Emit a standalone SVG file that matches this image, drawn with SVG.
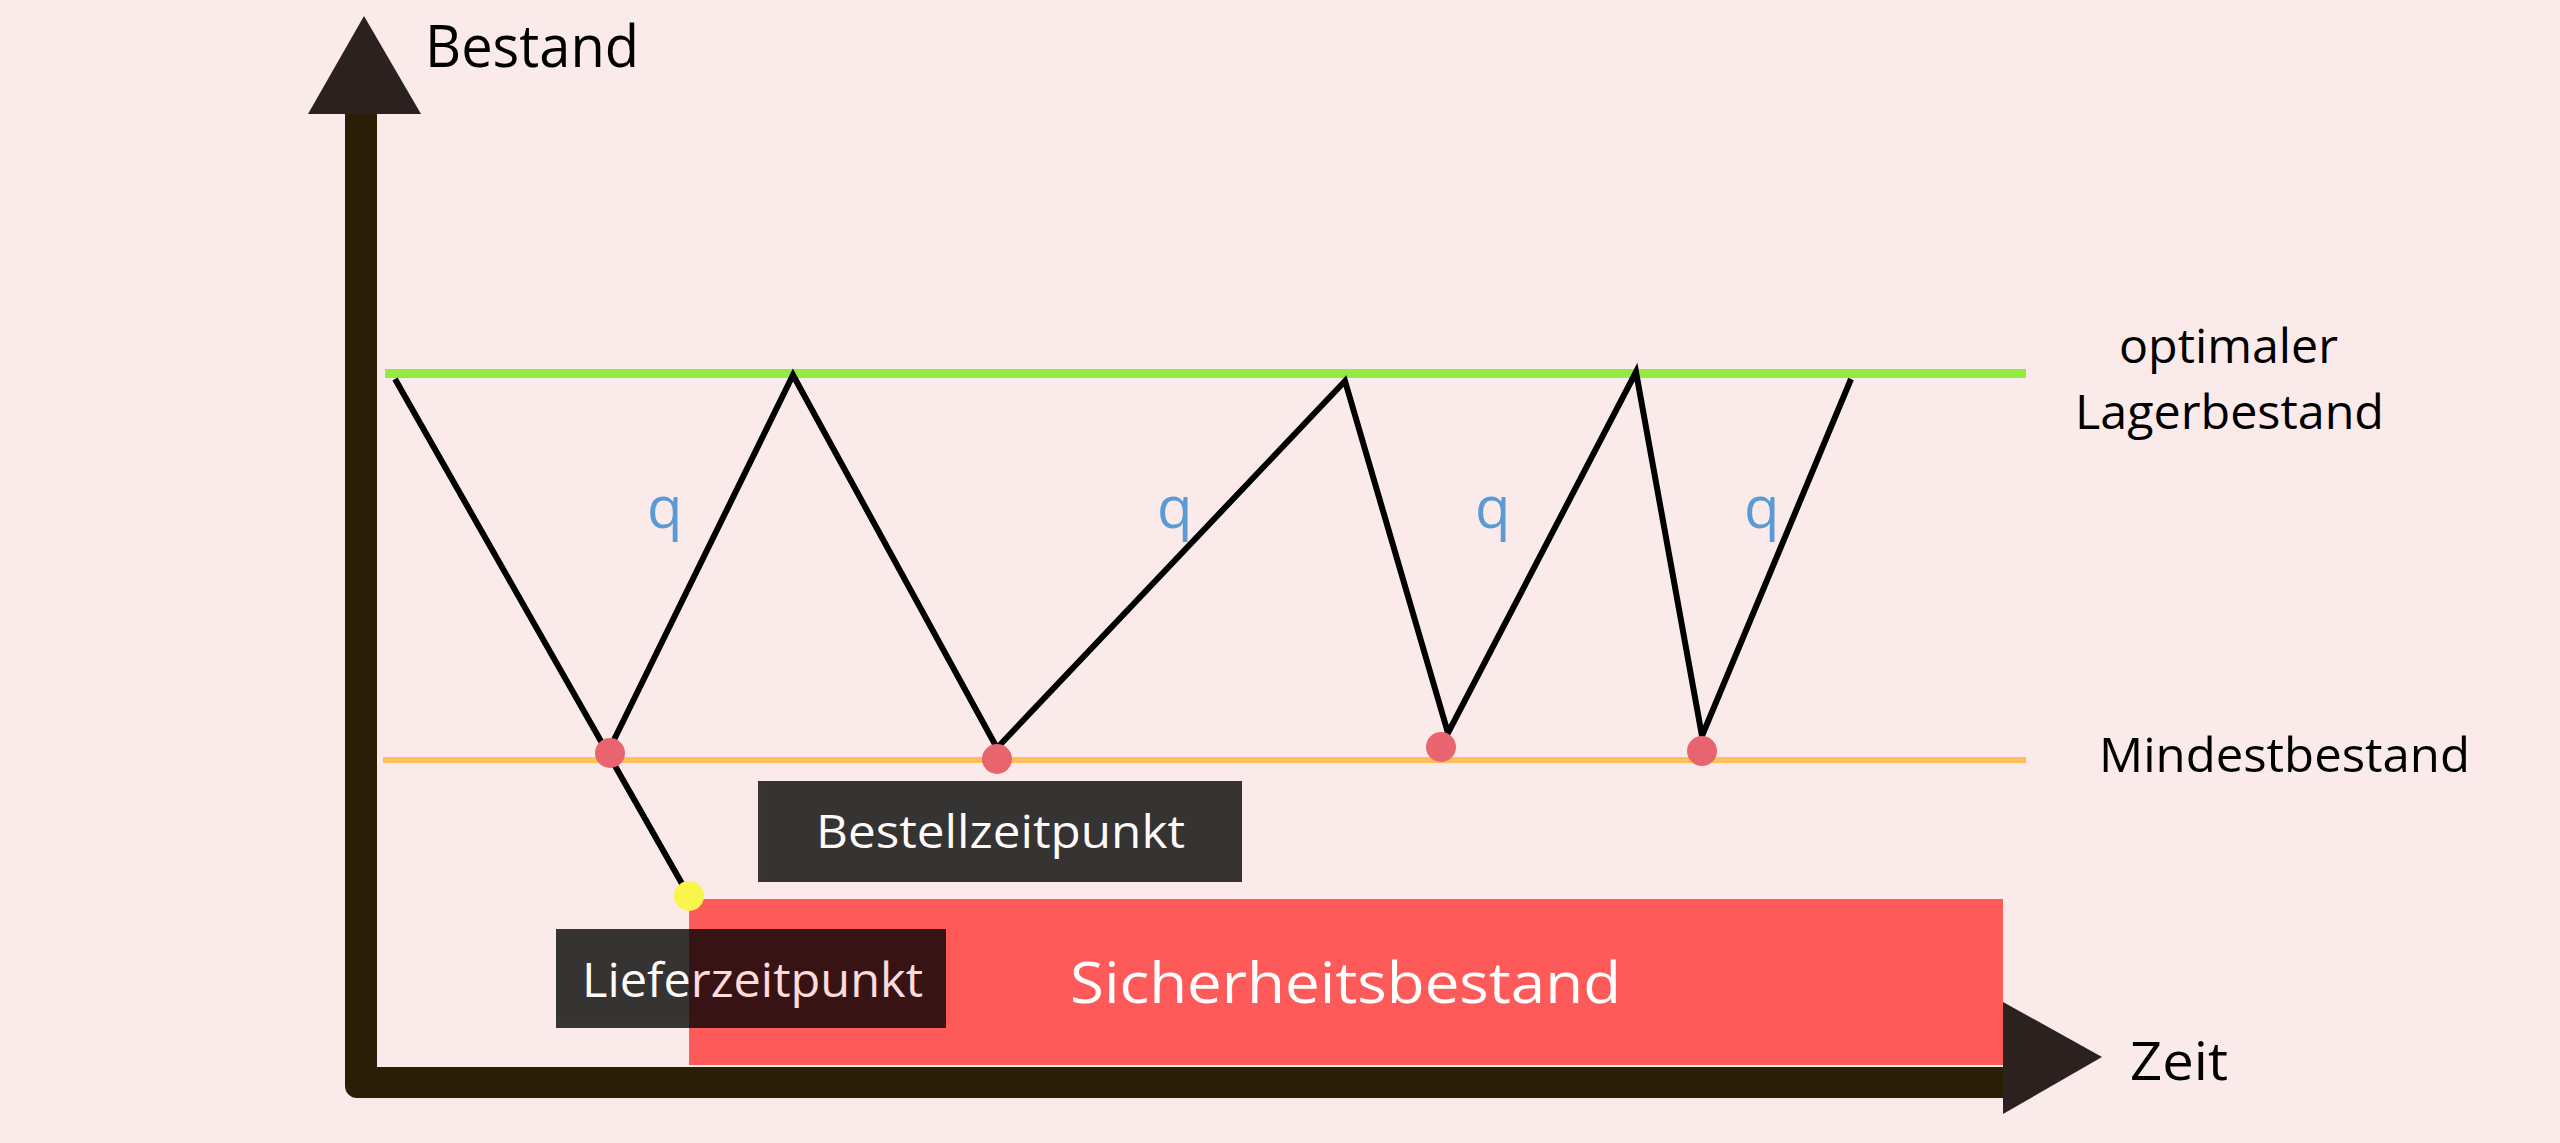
<svg xmlns="http://www.w3.org/2000/svg" width="2560" height="1143" viewBox="0 0 2560 1143">
<style>
.lbl{font-family:"Open Sans","Noto Sans","Liberation Sans",sans-serif;}
.dark{fill:#000000;}
.white{fill:#ffffff;}
.q{fill:#5B9BD5;font-size:58px;}
.zz{fill:none;stroke:#000000;stroke-width:6;stroke-linejoin:miter;}
.tri{fill:#2B2220;}
.dot{fill:#E8646E;}
</style>
<rect x="0" y="0" width="2560" height="1143" fill="#FBEAEA"/>

<g id="safety-stock">
  <rect x="689" y="899" width="1314" height="166" fill="#FF5A5A"/>
  <text class="lbl white" x="1070" y="1003" font-size="57" textLength="551" lengthAdjust="spacingAndGlyphs">Sicherheitsbestand</text>
</g>

<g id="axes">
  <path d="M345,114 H377 V1067 H2003 V1098 H357 A12,12 0 0 1 345,1086 Z" fill="#2A1E07"/>
  <polygon class="tri" points="364,16 421,114 308,114"/>
  <polygon class="tri" points="2003,1002 2102,1057 2003,1114"/>
  <text class="lbl dark" x="425" y="67" font-size="58" textLength="214" lengthAdjust="spacingAndGlyphs">Bestand</text>
  <text class="lbl dark" x="2130" y="1080" font-size="53" textLength="98" lengthAdjust="spacingAndGlyphs">Zeit</text>
</g>

<g id="optimal-level">
  <line x1="385" y1="373.5" x2="2026" y2="373.5" stroke="#93EA42" stroke-width="9"/>
  <text class="lbl dark" x="2119" y="363" font-size="47" textLength="219" lengthAdjust="spacingAndGlyphs">optimaler</text>
  <text class="lbl dark" x="2075" y="429" font-size="47" textLength="309" lengthAdjust="spacingAndGlyphs">Lagerbestand</text>
</g>

<g id="minimum-level">
  <line x1="383" y1="760" x2="2026" y2="760" stroke="#FBBF5C" stroke-width="6"/>
  <text class="lbl dark" x="2099" y="772" font-size="48" textLength="371" lengthAdjust="spacingAndGlyphs">Mindestbestand</text>
</g>

<g id="connectors">
  <path class="zz" d="M395,379 L689,896"/>
  <path class="zz" d="M609,750 L793,375 L997,748 L1345,381 L1448,733 L1636,372 L1702,736 L1851,379"/>
</g>

<g id="q-labels">
  <text class="lbl q" x="647" y="528">q</text>
  <text class="lbl q" x="1157" y="528">q</text>
  <text class="lbl q" x="1475" y="528">q</text>
  <text class="lbl q" x="1744" y="528">q</text>
</g>

<g id="points">
  <circle class="dot" cx="610" cy="753" r="15"/>
  <circle class="dot" cx="997" cy="759" r="15"/>
  <circle class="dot" cx="1441" cy="747" r="15"/>
  <circle class="dot" cx="1702" cy="751" r="15"/>
  <circle cx="689" cy="896" r="15" fill="#FAF54A"/>
</g>

<g id="bestellzeitpunkt" opacity="0.78">
  <rect x="758" y="781" width="484" height="101" fill="#000000"/>
  <text class="lbl white" x="816" y="848" font-size="46" textLength="369" lengthAdjust="spacingAndGlyphs">Bestellzeitpunkt</text>
</g>

<g id="lieferzeitpunkt" opacity="0.78">
  <rect x="556" y="929" width="390" height="99" fill="#000000"/>
  <text class="lbl white" x="582" y="997" font-size="47" textLength="341" lengthAdjust="spacingAndGlyphs">Lieferzeitpunkt</text>
</g>
</svg>
